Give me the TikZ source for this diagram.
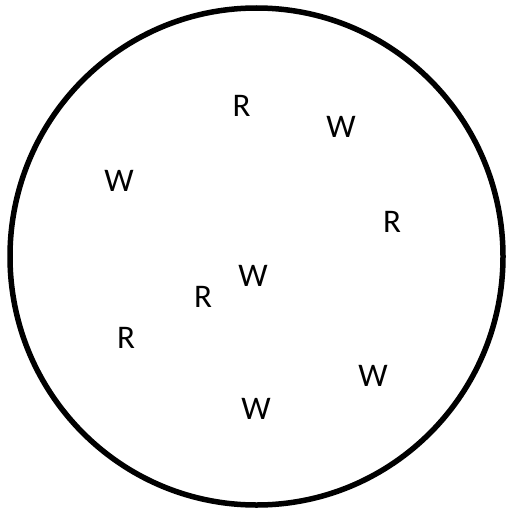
\documentclass[tikz,border=0pt]{standalone}
\usepackage{fontspec}
\setmainfont{Carlito}
\begin{document}
\begin{tikzpicture}[x=1pt,y=-1pt,
  lbl/.style={inner sep=0pt, font=\fontsize{33}{33}\selectfont, anchor=center}]
\useasboundingbox (0,0) rectangle (506,511);
\draw[line width=5.5pt] (256.5,256.5) ellipse [x radius=246.5, y radius=248.5];
\node[lbl] (r1) at (241.5,106) {R};
\node[lbl] (w1) at (341,127) {W};
\node[lbl] (w2) at (119,181) {W};
\node[lbl] (r2) at (392,222) {R};
\node[lbl] (w3) at (253,276) {W};
\node[lbl] (r3) at (203,297) {R};
\node[lbl] (r4) at (126,338) {R};
\node[lbl] (w4) at (373,376) {W};
\node[lbl] (w5) at (256,409) {W};
\end{tikzpicture}
\end{document}
